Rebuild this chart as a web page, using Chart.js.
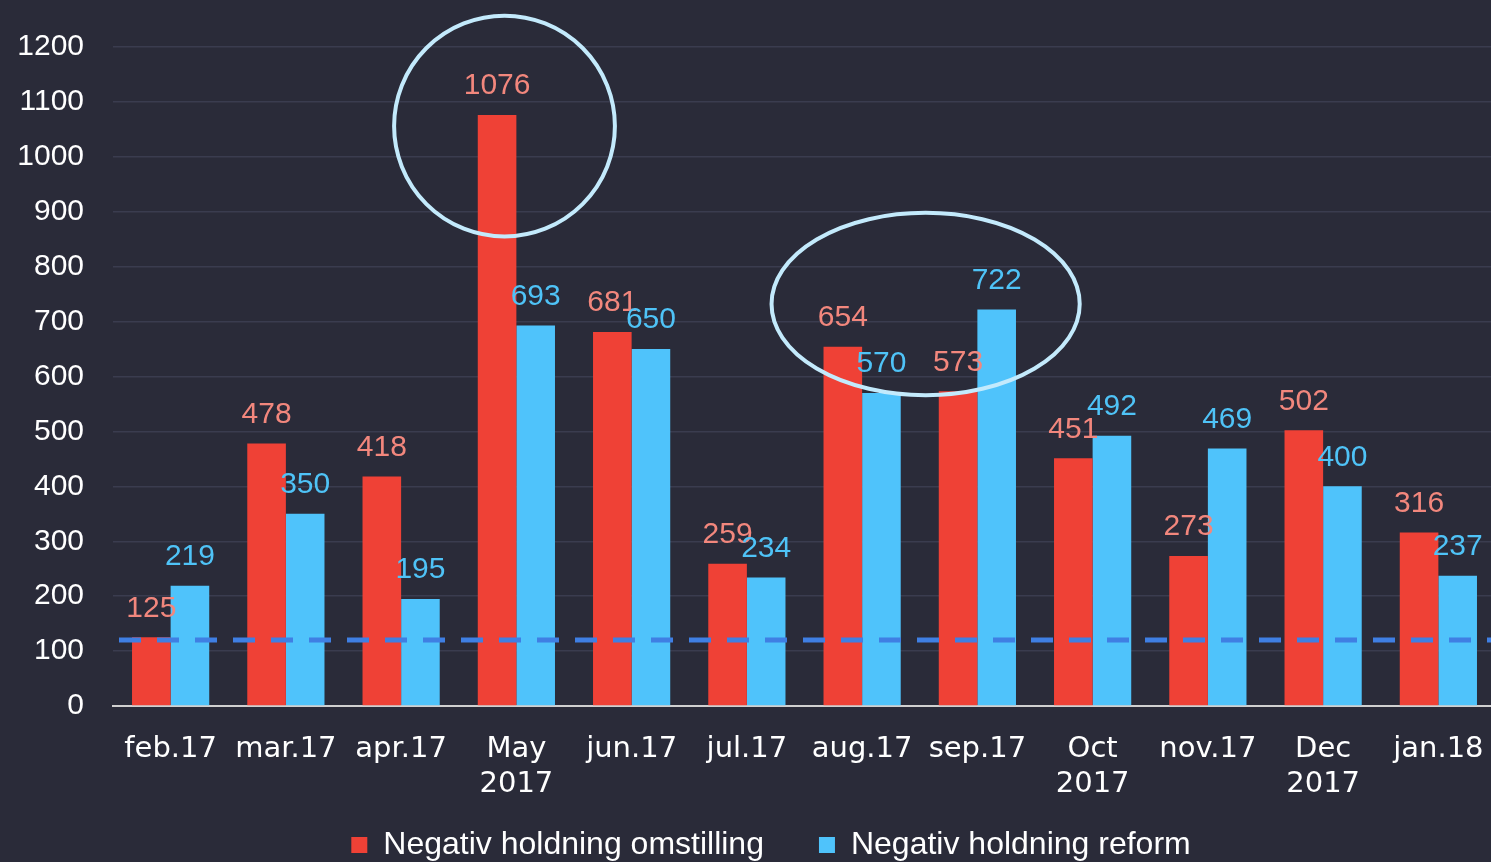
<!DOCTYPE html>
<html><head><meta charset="utf-8">
<script src="https://cdn.jsdelivr.net/npm/chart.js@4"></script>
<style>html,body{margin:0;padding:0;background:#2a2b39;overflow:hidden;width:1491px;height:862px}</style>
</head><body>
<canvas id="c" width="1496" height="897"></canvas>
<script>
const categories = ['feb.17','mar.17','apr.17',['May','2017'],'jun.17','jul.17','aug.17','sep.17',['Oct','2017'],'nov.17',['Dec','2017'],'jan.18'];
const omstilling = [125,478,418,1076,681,259,654,573,451,273,502,316];
const reform = [219,350,195,693,650,234,570,722,492,469,400,237];
const seriesNames = ['Negativ holdning omstilling','Negativ holdning reform'];
const yTickValues = [0,100,200,300,400,500,600,700,800,900,1000,1100,1200];
const threshold = 120;

// annotation ellipses in data units (category index, value)
const highlightEllipses = [
  {cx: 2.897, cy: 1056, rx: 0.958, ry: 201},
  {cx: 6.551, cy: 732, rx: 1.337, ry: 166}
];

const RED = '#ef4136', BLUE = '#4fc3fb';
const RED_LABEL = '#f2877d', BLUE_LABEL = '#4fc3f7';

const legendShift = {
  id: 'legendShift',
  afterLayout(chart) {
    const lg = chart.legend;
    if (!lg) return;
    lg.top -= 26; lg.bottom -= 26;
    lg.left += 23; lg.right += 23;
  }
};

const overlayPlugin = {
  id: 'overlay',
  afterDatasetsDraw(chart) {
    const {ctx, chartArea, scales: {x, y}} = chart;
    // threshold line
    ctx.save();
    ctx.strokeStyle = '#3f7fe3';
    ctx.lineWidth = 5;
    ctx.setLineDash([22, 16]);
    const ty = y.getPixelForValue(threshold);
    ctx.beginPath();
    ctx.moveTo(chartArea.left + 6, ty);
    ctx.lineTo(chartArea.right + 10, ty);
    ctx.stroke();
    ctx.restore();
    // data labels
    ctx.save();
    ctx.font = '30px "Liberation Sans", Arial, sans-serif';
    ctx.textAlign = 'center';
    ctx.textBaseline = 'middle';
    chart.data.datasets.forEach((ds, di) => {
      const meta = chart.getDatasetMeta(di);
      ctx.fillStyle = di === 0 ? RED_LABEL : BLUE_LABEL;
      meta.data.forEach((bar, i) => {
        ctx.fillText(String(ds.data[i]), bar.x, bar.y - 29);
      });
    });
    ctx.restore();
    // ellipses
    ctx.save();
    ctx.strokeStyle = '#c3eafc';
    ctx.lineWidth = 4;
    const unitX = x.getPixelForValue(1) - x.getPixelForValue(0);
    const unitY = y.getPixelForValue(0) - y.getPixelForValue(1);
    highlightEllipses.forEach(e => {
      ctx.beginPath();
      ctx.ellipse(x.getPixelForValue(e.cx), y.getPixelForValue(e.cy), e.rx * unitX, e.ry * unitY, 0, 0, Math.PI * 2);
      ctx.stroke();
    });
    ctx.restore();
  }
};

new Chart(document.getElementById('c'), {
  type: 'bar',
  data: {
    labels: categories,
    datasets: [
      {label: seriesNames[0], data: omstilling, backgroundColor: RED, categoryPercentage: 0.67, barPercentage: 1},
      {label: seriesNames[1], data: reform, backgroundColor: BLUE, categoryPercentage: 0.67, barPercentage: 1}
    ]
  },
  options: {
    responsive: false,
    animation: false,
    layout: {padding: {top: 45, left: 0, right: 0, bottom: 0}},
    plugins: {
      tooltip: {enabled: false},
      legend: {
        position: 'bottom',
        labels: {
          color: '#ffffff',
          font: {family: '"Liberation Sans", Arial, sans-serif', size: 32},
          boxWidth: 16, boxHeight: 16, padding: 55
        }
      }
    },
    scales: {
      x: {
        grid: {display: false},
        border: {color: '#d0d0d0', width: 2},
        ticks: {
          color: '#ffffff', padding: 18, maxRotation: 0, autoSkip: false,
          font: {family: '"DejaVu Sans", Verdana, sans-serif', size: 29, lineHeight: 1.2}
        },
        afterFit(s) { s.height = 94; s.paddingLeft = 0; s.paddingRight = 0; }
      },
      y: {
        min: 0, max: 1200,
        afterBuildTicks(s) { s.ticks = yTickValues.map(v => ({value: v})); },
        grid: {color: '#3a3c4f', lineWidth: 1.5, drawTicks: false},
        border: {display: false},
        ticks: {
          color: '#ffffff', padding: 29,
          font: {family: '"Liberation Sans", Arial, sans-serif', size: 30},
          callback: v => String(v)
        },
        afterFit(s) { s.width = 113; }
      }
    }
  },
  plugins: [legendShift, overlayPlugin]
});
</script>
</body></html>
